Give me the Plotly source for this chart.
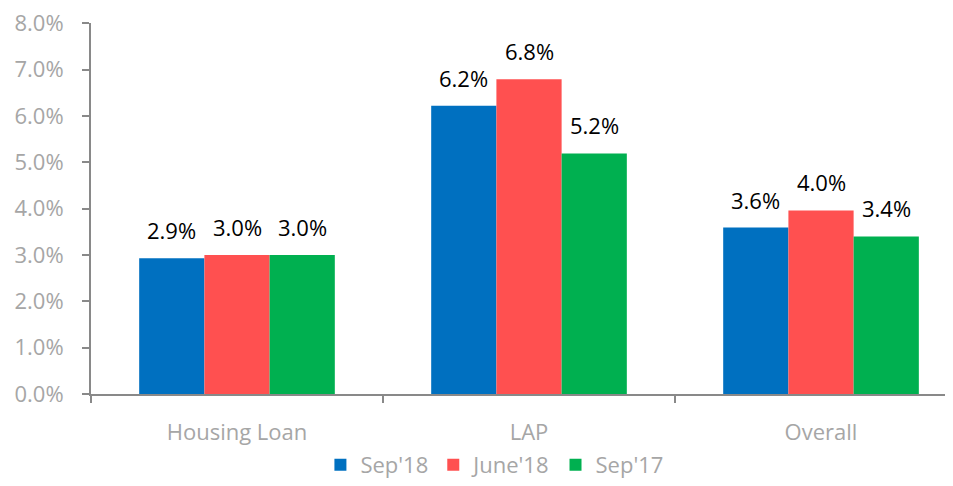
import plotly.graph_objects as go

categories = ["Housing Loan", "LAP", "Overall"]
series_names = ["Sep'18", "June'18", "Sep'17"]
sep18 = [0.0293, 0.0622, 0.0359]
june18 = [0.0300, 0.0679, 0.0396]
sep17 = [0.0300, 0.0519, 0.0340]
colors = ["#0070C0", "#FF5050", "#00B050"]
y_ticks = [0, 0.01, 0.02, 0.03, 0.04, 0.05, 0.06, 0.07, 0.08]

FONT = "Open Sans"
BARGAP = 0.33
series = [sep18, june18, sep17]
bar_w = (1 - BARGAP) / len(series)

fig = go.Figure()
for name, vals, col in zip(series_names, series, colors):
    fig.add_trace(go.Bar(
        x=categories, y=vals, name=name, marker_color=col,
        marker_line_width=0,
    ))

# data labels placed above each bar centre (derived from the group layout)
for k, vals in enumerate(series):
    for i, v in enumerate(vals):
        fig.add_annotation(
            x=i + (k - (len(series) - 1) / 2) * bar_w, y=v, xref="x", yref="y",
            text=f"{v*100:.1f}%", showarrow=False, yanchor="bottom", yshift=11,
            font=dict(family=FONT, size=22, color="black"),
        )

# page body has an 8px default margin, so the figure is sized to fit the window
fig.update_layout(
    width=945, height=478,
    margin=dict(l=83, r=0, t=15, b=80),
    barmode="group", bargap=BARGAP, bargroupgap=0,
    plot_bgcolor="white", paper_bgcolor="white",
    font=dict(family=FONT, color="#A6A6A6", size=22),
    legend=dict(orientation="h", x=0.468, xanchor="center", y=-0.192, yanchor="middle",
                font=dict(size=22, color="#A6A6A6"), itemwidth=30),
    showlegend=True,
)
fig.update_xaxes(
    range=[-0.5, 2.452], showline=True, linecolor="#898989", linewidth=2,
    ticks="outside", tickson="boundaries", ticklen=7, tickcolor="#898989", tickwidth=2,
    tickfont=dict(size=22, color="#A6A6A6"), automargin=False, ticklabelstandoff=18,
)
fig.update_yaxes(
    range=[0, 0.08005], tickvals=y_ticks, tickformat=".1%", showline=True,
    linecolor="#898989", linewidth=2, ticks="outside", ticklen=7,
    tickcolor="#898989", tickwidth=2, showgrid=False, zeroline=False,
    tickfont=dict(size=22, color="#A6A6A6"), automargin=False, ticklabelstandoff=14,
    ticklabeloverflow="allow",
)

fig.write_html("out.html", config={"displayModeBar": False})
